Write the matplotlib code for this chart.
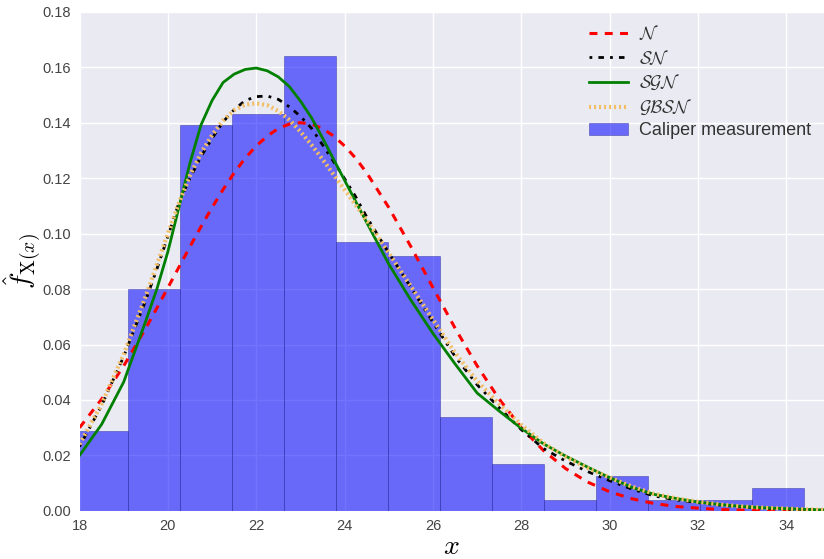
import matplotlib
matplotlib.use('Agg')
import matplotlib.pyplot as plt

# kiểu chữ cho nhãn toán học (giống Computer Modern)
plt.rcParams['mathtext.fontset'] = 'cm'
plt.rcParams['font.family'] = ['Liberation Sans', 'DejaVu Sans']

# histogram: các cạnh bin và mật độ
bin_edges = [17.93, 19.10, 20.28, 21.45, 22.63, 23.80, 24.98, 26.16,
             27.33, 28.51, 29.69, 30.87, 32.04, 33.21, 34.39]
densities = [0.029, 0.080, 0.139, 0.143, 0.164, 0.097, 0.092, 0.034,
             0.017, 0.004, 0.0125, 0.004, 0.004, 0.0083]

# các đường mật độ ước lượng
x_grid = [18.0, 18.5, 19.0,
          19.5, 19.75, 20.0, 20.25, 20.5, 20.75, 21.0, 21.25, 21.5, 21.75,
          22.0, 22.25, 22.5, 22.75, 23.0, 23.25, 23.5, 23.75, 24.0, 24.25,
          24.5, 25.0, 25.5, 26.0, 26.5, 27.0, 27.5, 28.0, 28.5, 29.0, 29.5,
          30.0, 30.5, 31.0, 31.5, 32.0, 32.5, 33.0, 33.5, 34.0, 34.5, 35.0]
normal_pdf = [0.0300, 0.0403, 0.0523,
              0.0659, 0.0731, 0.0805, 0.0879, 0.0953, 0.1025, 0.1094, 0.1159,
              0.1219, 0.1272, 0.1316, 0.1352, 0.1379, 0.1395, 0.1400, 0.1395,
              0.1379, 0.1352, 0.1316, 0.1272, 0.1219,
              0.1094, 0.0953, 0.0805, 0.0659, 0.0523, 0.0403, 0.0300, 0.0218,
              0.0153, 0.0104, 0.0069, 0.0044, 0.0027, 0.0016, 0.0010, 0.0005,
              0.0003, 0.0002, 0.0001, 0.0000, 0.0000]
sn_pdf = [0.0232, 0.0380, 0.0557,
          0.0760, 0.0872, 0.0990, 0.1111, 0.1200, 0.1278, 0.1343, 0.1403,
          0.1447, 0.1480, 0.1494, 0.1496, 0.1484, 0.1457, 0.1423, 0.1380,
          0.1320, 0.1260, 0.1198, 0.1133, 0.1060,
          0.0930, 0.0806, 0.0680, 0.0557, 0.0455, 0.0372, 0.0293, 0.0225,
          0.0180, 0.0142, 0.0109, 0.0079, 0.0054, 0.0040, 0.0030, 0.0021,
          0.0015, 0.0010, 0.0007, 0.0005, 0.0003]
sgn_pdf = [0.0200, 0.0312, 0.0465,
           0.0685, 0.0800, 0.0935, 0.1095, 0.1255, 0.1392, 0.1480, 0.1545,
           0.1575, 0.1592, 0.1597, 0.1587, 0.1565, 0.1530, 0.1478, 0.1418,
           0.1345, 0.1268, 0.1192, 0.1116, 0.1040,
           0.0890, 0.0760, 0.0640, 0.0530, 0.0425, 0.0360, 0.0298, 0.0242,
           0.0198, 0.0158, 0.0120, 0.0085, 0.0060, 0.0045, 0.0032, 0.0023,
           0.0016, 0.0011, 0.0008, 0.0005, 0.0003]
gbsn_pdf = [0.0240, 0.0385, 0.0565,
            0.0775, 0.0888, 0.1000, 0.1110, 0.1210, 0.1290, 0.1355, 0.1408,
            0.1445, 0.1465, 0.1470, 0.1463, 0.1442, 0.1410, 0.1368, 0.1320,
            0.1268, 0.1213, 0.1158, 0.1103, 0.1048,
            0.0930, 0.0810, 0.0690, 0.0570, 0.0468, 0.0385, 0.0310, 0.0245,
            0.0195, 0.0155, 0.0120, 0.0088, 0.0062, 0.0045, 0.0033, 0.0023,
            0.0016, 0.0011, 0.0008, 0.0005, 0.0003]

x_ticks = [18, 20, 22, 24, 26, 28, 30, 32, 34]
y_ticks = [0.00, 0.02, 0.04, 0.06, 0.08, 0.10, 0.12, 0.14, 0.16, 0.18]

fig = plt.figure(figsize=(8.24, 5.59), dpi=100)
ax = fig.add_axes([0.0965, 0.086, 0.9035, 0.893])
ax.set_facecolor('#EAEAF2')
for s in ax.spines.values():
    s.set_visible(False)
ax.grid(True, color='white', linewidth=1.0)
ax.set_axisbelow(True)

widths = [b - a for a, b in zip(bin_edges[:-1], bin_edges[1:])]
ax.bar(bin_edges[:-1], densities, width=widths, align='edge',
       color='blue', alpha=0.55, edgecolor='#3030a0', linewidth=0.6,
       label='Caliper measurement', zorder=2)

ax.plot(x_grid, normal_pdf, color='red', linewidth=2.2,
        linestyle=(0, (2.6, 2.4)), label=r'$\mathcal{N}$', zorder=3)
ax.plot(x_grid, sn_pdf, color='black', linewidth=2.0,
        linestyle=(0, (1, 2.2, 2, 2.2)), label=r'$\mathcal{SN}$', zorder=3)
ax.plot(x_grid, sgn_pdf, color='green', linewidth=2.0,
        linestyle='-', label=r'$\mathcal{SGN}$', zorder=3)
ax.plot(x_grid, gbsn_pdf, color='#f2bf66', linewidth=3.0,
        linestyle=(0, (0.5, 0.7)), label=r'$\mathcal{GBSN}$', zorder=3)

ax.set_xlim(18, 34.85)
ax.set_ylim(0, 0.18)
ax.set_xticks(x_ticks)
ax.set_yticks(y_ticks)
ax.set_yticklabels(['%.2f' % v for v in y_ticks])
ax.tick_params(length=0, labelsize=10.5, labelcolor='#444444', pad=6)

ax.set_xlabel(r'$x$', fontsize=20)
ax.xaxis.set_label_coords(0.5, -0.073)
ax.xaxis.label.set_va('center')
ax.set_ylabel(r'$\hat{f}_{\mathrm{X}(x)}$', fontsize=20)
ax.yaxis.set_label_coords(-0.077, 0.5)
ax.yaxis.label.set_va('center')

leg = ax.legend(loc='upper right', frameon=False, fontsize=13,
                handlelength=2.2, handletextpad=0.6, labelspacing=0.3,
                borderaxespad=0.3, bbox_to_anchor=(1.0, 1.0))
for t in leg.get_texts():
    t.set_color('#333333')

plt.savefig('out.png', dpi=100)
plt.close()
